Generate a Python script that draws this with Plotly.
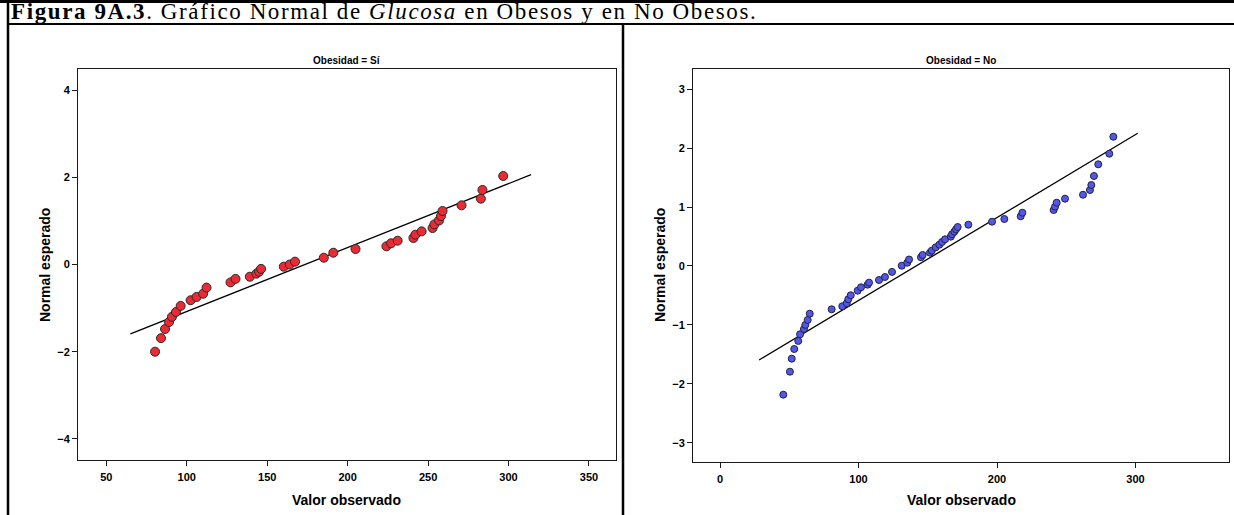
import plotly.graph_objects as go

# ---- data ----
obesos_valor = [80.3, 84.0, 86.5, 89.0, 90.8, 93.3, 96.2, 102.4, 106.1, 110.2, 112.3,
                127.2, 130.3, 139.2, 143.3, 144.9, 146.2, 160.3, 164.0, 167.3, 185.2,
                191.1, 204.9, 224.1, 227.0, 231.1, 240.9, 242.1, 246.0, 252.8, 253.9,
                256.8, 258.0, 259.0, 270.8, 282.8, 283.8, 296.7]
obesos_normal = [-2.0, -1.69, -1.48, -1.32, -1.2, -1.09, -0.95, -0.82, -0.745, -0.67, -0.53,
                 -0.41, -0.33, -0.28, -0.21, -0.165, -0.10, -0.05, 0.0, 0.065, 0.155,
                 0.27, 0.356, 0.417, 0.486, 0.546, 0.608, 0.684, 0.76, 0.837, 0.92,
                 1.01, 1.11, 1.227, 1.357, 1.51, 1.71, 2.03]
obesos_linea_x = [65, 314]
obesos_linea_y = [-1.59, 2.06]

noobesos_valor = [45.7, 50.5, 51.8, 53.6, 56.5, 57.8, 60.6, 61.6, 63.3, 64.8, 80.6, 88.3,
                  91.5, 92.6, 94.4, 99.4, 101.8, 106.6, 107.6, 114.8, 119.1, 124.2, 131.2,
                  135.2, 136.5, 145.1, 146.3, 151.6, 152.9, 155.7, 158.4, 160.3, 162.5,
                  166.6, 167.5, 169.2, 170.4, 171.6, 179.3, 196.4, 205.3, 217.1, 218.3,
                  240.9, 241.9, 243.1, 249.1, 262.1, 267.1, 268.1, 270.0, 273.1, 281.1, 284.0]
noobesos_normal = [-2.185, -1.795, -1.574, -1.41, -1.273, -1.16, -1.07, -1.0, -0.917, -0.81,
                   -0.735, -0.684, -0.633, -0.565, -0.497, -0.419, -0.362, -0.317, -0.283,
                   -0.238, -0.187, -0.10, 0.005, 0.056, 0.11, 0.148, 0.187, 0.226, 0.26,
                   0.317, 0.362, 0.407, 0.453, 0.498, 0.538, 0.583, 0.623, 0.662, 0.701,
                   0.752, 0.798, 0.844, 0.905, 0.951, 1.007, 1.075, 1.143, 1.21, 1.29,
                   1.375, 1.528, 1.727, 1.907, 2.195]
noobesos_linea_x = [28.2, 301.6]
noobesos_linea_y = [-1.596, 2.253]

ticks_x_izq = [50, 100, 150, 200, 250, 300, 350]
ticks_y_izq = [-4, -2, 0, 2, 4]
ticks_x_der = [0, 100, 200, 300]
ticks_y_der = [-3, -2, -1, 0, 1, 2, 3]

titulo = ('<span style="letter-spacing:1.6px"><b>Figura 9A.3</b>. Gráfico Normal de '
          '<i>Glucosa</i> en Obesos y en No Obesos.</span>')
sub_izq = "Obesidad = Sí"
sub_der = "Obesidad = No"
eje_x = "Valor observado"
eje_y = "Normal esperado"

# ---- layout helpers (pixel -> paper) ----
W, H = 1234, 515
def px(x):
    return x / W
def py(y):
    return 1 - y / H

SANS = "Liberation Sans, Arial, sans-serif"
SERIF = "Liberation Serif, Times New Roman, serif"

fig = go.Figure()

fig.add_trace(go.Scatter(
    x=obesos_linea_x, y=obesos_linea_y, mode="lines",
    line=dict(color="black", width=1.3), xaxis="x", yaxis="y", hoverinfo="skip"))
fig.add_trace(go.Scatter(
    x=obesos_valor, y=obesos_normal, mode="markers",
    marker=dict(size=9, color="#ec2a33", line=dict(color="#2a2a2a", width=1)),
    xaxis="x", yaxis="y"))

fig.add_trace(go.Scatter(
    x=noobesos_linea_x, y=noobesos_linea_y, mode="lines",
    line=dict(color="black", width=1.3), xaxis="x2", yaxis="y2", hoverinfo="skip"))
fig.add_trace(go.Scatter(
    x=noobesos_valor, y=noobesos_normal, mode="markers",
    marker=dict(size=7, color="#5257e8", line=dict(color="#222244", width=1)),
    xaxis="x2", yaxis="y2"))

axis_common = dict(
    showgrid=False, zeroline=False, showline=True, linecolor="#1a1a1a", linewidth=1,
    mirror=True, ticks="outside", ticklen=5, tickwidth=1, tickcolor="#1a1a1a",
    tickfont=dict(family=SANS, size=11, color="black", weight="bold"),
)

fig.update_layout(
    width=W, height=H, margin=dict(l=0, r=0, t=0, b=0),
    paper_bgcolor="white", plot_bgcolor="white", showlegend=False,
    xaxis=dict(domain=[px(78), px(615.5)], range=[32.4, 366.5], tickvals=ticks_x_izq,
               anchor="y", ticklabelstandoff=2, **axis_common),
    yaxis=dict(domain=[py(460), py(69)], range=[-4.484, 4.484], tickvals=ticks_y_izq,
               anchor="x", **axis_common),
    xaxis2=dict(domain=[px(693), px(1229)], range=[-19.5, 367.5], tickvals=ticks_x_der,
                anchor="y2", ticklabelstandoff=2, **axis_common),
    yaxis2=dict(domain=[py(461.5), py(69.3)], range=[-3.32, 3.34], tickvals=ticks_y_der,
                anchor="x2", **axis_common),
)

ann = []
ann.append(dict(text=titulo, x=px(9), y=py(11.3), xanchor="left", yanchor="middle",
                showarrow=False, font=dict(family=SERIF, size=23, color="black")))
for cx, txt in [(346.8, sub_izq), (961, sub_der)]:
    ann.append(dict(text="<b>%s</b>" % txt, x=px(cx), y=py(60.5), xanchor="center",
                    yanchor="middle", showarrow=False,
                    font=dict(family=SANS, size=10, color="black")))
for cx in [346.8, 961]:
    ann.append(dict(text="<b>%s</b>" % eje_x, x=px(cx), y=py(500), xanchor="center",
                    yanchor="middle", showarrow=False,
                    font=dict(family=SANS, size=14, color="black")))
for cx in [45, 660]:
    ann.append(dict(text="<b>%s</b>" % eje_y, x=px(cx), y=py(265), xanchor="center",
                    yanchor="middle", textangle=-90, showarrow=False,
                    font=dict(family=SANS, size=14, color="black")))
for a in ann:
    a.update(xref="paper", yref="paper")
fig.update_layout(annotations=ann)

# table-like frame lines
shapes = [
    dict(type="line", x0=0, x1=1, y0=py(1.5), y1=py(1.5), line=dict(color="black", width=3)),
    dict(type="line", x0=px(7), x1=1, y0=py(24), y1=py(24), line=dict(color="black", width=2)),
    dict(type="line", x0=px(8), x1=px(8), y0=0, y1=1, line=dict(color="black", width=2.5)),
    dict(type="line", x0=px(623), x1=px(623), y0=0, y1=py(24), line=dict(color="black", width=2.5)),
]
for s in shapes:
    s.update(xref="paper", yref="paper")
fig.update_layout(shapes=shapes)

fig.write_html("out.html")
